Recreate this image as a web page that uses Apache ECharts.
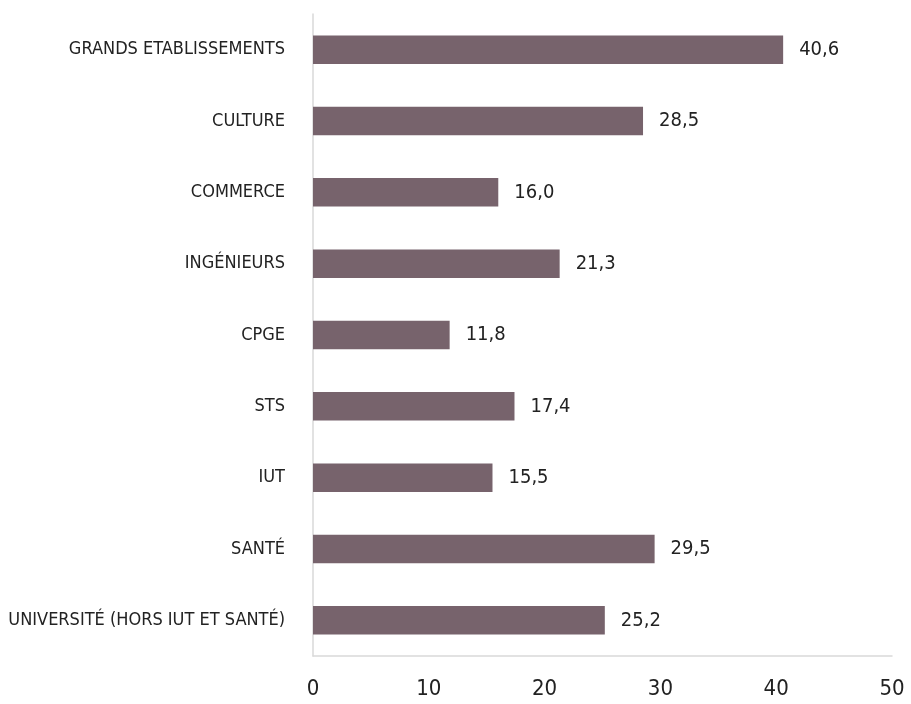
<!DOCTYPE html>
<html>
<head>
<meta charset="utf-8">
<script src="https://cdn.jsdelivr.net/npm/echarts@6/dist/echarts.min.js"></script>
<style>
    html, body { margin: 0; padding: 0; background: #fff; }
    #chart { width: 911px; height: 704px; }
</style>
</head>
<body>
<div id="chart"></div>
<script>
    // top to bottom, as in the picture
    var categories = [
        'GRANDS ETABLISSEMENTS',
        'CULTURE',
        'COMMERCE',
        'INGÉNIEURS',
        'CPGE',
        'STS',
        'IUT',
        'SANTÉ',
        'UNIVERSITÉ (HORS IUT ET SANTÉ)'
    ];
    var values = [40.6, 28.5, 16.0, 21.3, 11.8, 17.4, 15.5, 29.5, 25.2];
    var xTicks = [0, 10, 20, 30, 40, 50];

    var fontFamily = '"Liberation Sans Narrow", "DejaVu Sans Condensed", sans-serif';
    var chart = echarts.init(document.getElementById('chart'));

    chart.setOption({
        animation: false,
        textStyle: { fontFamily: fontFamily },
        grid: { left: 313, right: 19, top: 14, bottom: 48, outerBoundsMode: 'none', containLabel: false },
        xAxis: {
            type: 'value',
            min: xTicks[0],
            max: xTicks[xTicks.length - 1],
            interval: 10,
            axisLine: { show: true, lineStyle: { color: '#d9d9d9', width: 1.5 } },
            axisTick: { show: false },
            splitLine: { show: false },
            axisLabel: { color: '#222', fontSize: 22, margin: 22, fontFamily: fontFamily }
        },
        yAxis: {
            type: 'category',
            inverse: true,
            data: categories,
            axisLine: { show: true, lineStyle: { color: '#d9d9d9', width: 1.5 } },
            axisTick: { show: false },
            axisLabel: { color: '#222', fontSize: 18, margin: 28, fontFamily: fontFamily }
        },
        series: [{
            type: 'bar',
            data: values,
            barWidth: '40%',
            itemStyle: { color: '#77636c' },
            label: {
                show: true,
                position: 'right',
                distance: 16,
                color: '#222',
                fontSize: 20,
                fontFamily: fontFamily,
                formatter: function (p) {
                    return p.value.toFixed(1).replace('.', ',');
                }
            }
        }]
    });
</script>
</body>
</html>
